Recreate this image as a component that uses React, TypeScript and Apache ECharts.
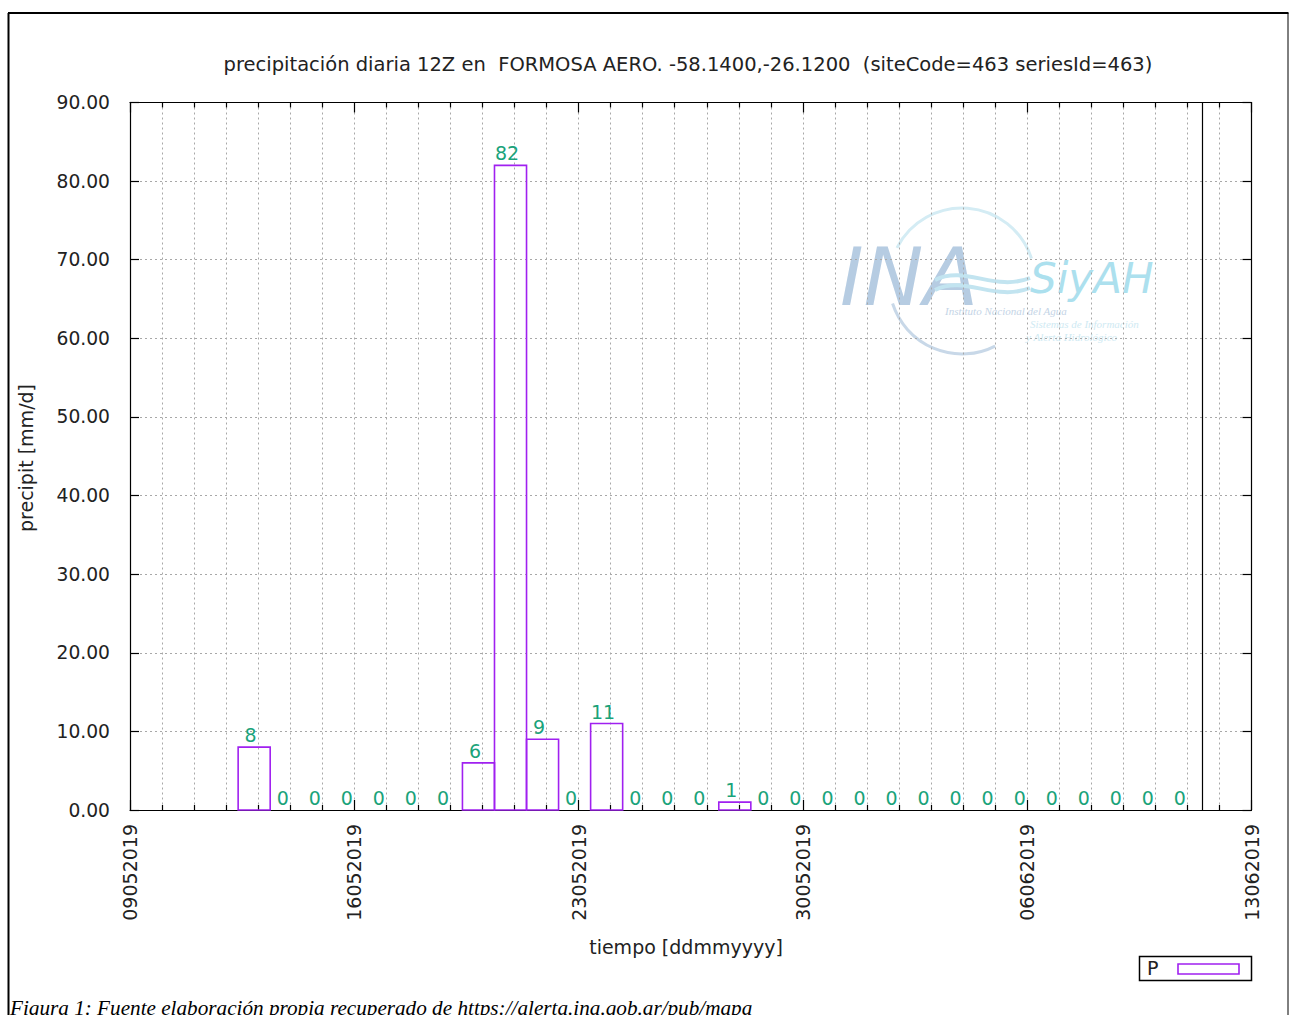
import React, { useEffect, useRef } from "react";
import * as echarts from "echarts";

const TITLE = "precipitación diaria 12Z en  FORMOSA AERO. -58.1400,-26.1200  (siteCode=463 seriesId=463)";
const X_NAME = "tiempo [ddmmyyyy]";
const Y_NAME = "precipit [mm/d]";
const CAPTION = "Figura 1: Fuente elaboración propia recuperado de https://alerta.ina.gob.ar/pub/mapa";
const LEGEND_NAME = "P";

const START_DATE = "09052019";
const END_DATE = "13062019";
// 24h accumulation periods starting at 09:00 of each date
const dates = [
  "12052019", "13052019", "14052019", "15052019", "16052019", "17052019", "18052019",
  "19052019", "20052019", "21052019", "22052019", "23052019", "24052019", "25052019",
  "26052019", "27052019", "28052019", "29052019", "30052019", "31052019", "01062019",
  "02062019", "03062019", "04062019", "05062019", "06062019", "07062019", "08062019",
  "09062019", "10062019",
];
const values = [
  8, 0, 0, 0, 0, 0, 0,
  6, 82, 9, 0, 11, 0, 0,
  0, 1, 0, 0, 0, 0, 0,
  0, 0, 0, 0, 0, 0, 0,
  0, 0,
];
const PERIOD_START_HOUR = 9;
const NOW_DATE = "11062019";
const NOW_HOUR = 11;

const Y_MIN = 0;
const Y_MAX = 90;
const Y_STEP = 10;
const X_STEP_DAYS = 7;

const DAY = 86400000;
function parseDate(s: string): number {
  const d = +s.slice(0, 2), m = +s.slice(2, 4), y = +s.slice(4);
  return Date.UTC(y, m - 1, d);
}
const t0 = parseDate(START_DATE);
const toDays = (s: string, hour = 0) => (parseDate(s) - t0) / DAY + hour / 24;
function fmtDays(v: number): string {
  const d = new Date(t0 + Math.round(v) * DAY);
  const p = (n: number) => String(n).padStart(2, "0");
  return p(d.getUTCDate()) + p(d.getUTCMonth() + 1) + d.getUTCFullYear();
}

const FONT = "DejaVu Sans";
const FS = 19;
const PURPLE = "#a020f0";
const GREEN = "#1aa37a";
const GRID_COLOR = "#a8a8a8";
const TEXT = "#222";

export default function App() {
  const ref = useRef<HTMLDivElement>(null);
  useEffect(() => {
    const chart = echarts.init(ref.current!, null, { renderer: "svg" });
    const xMax = toDays(END_DATE);
    const barData = dates.map((d, i) => {
      const s = toDays(d, PERIOD_START_HOUR);
      return [s, s + 1, values[i]];
    });
    const nowX = toDays(NOW_DATE, NOW_HOUR);

    const xCommon: any = {
      type: "value",
      min: 0,
      max: xMax,
      interval: X_STEP_DAYS,
      axisLine: { show: true, onZero: false, lineStyle: { color: "#000", width: 1.2 } },
      axisTick: { show: true, inside: true, length: 10, lineStyle: { color: "#000", width: 1.2 } },
      minorTick: { show: true, splitNumber: 7, length: 5, lineStyle: { color: "#000", width: 1.2 } },
    };
    const yCommon: any = {
      type: "value",
      min: Y_MIN,
      max: Y_MAX,
      interval: Y_STEP,
      axisLine: { show: true, onZero: false, lineStyle: { color: "#000", width: 1.2 } },
      axisTick: { show: true, inside: true, length: 9, lineStyle: { color: "#000", width: 1.2 } },
    };
    const dotted = { color: GRID_COLOR, width: 1, type: [2, 3] as any };

    chart.setOption({
      animation: false,
      backgroundColor: "#fff",
      grid: { left: 130, right: 39.5, top: 102.5, bottom: 205, containLabel: false },
      xAxis: [
        {
          ...xCommon,
          position: "bottom",
          axisLabel: {
            rotate: 90,
            margin: 14,
            fontFamily: FONT,
            fontSize: FS,
            color: TEXT,
            formatter: (v: number) => fmtDays(v),
          },
          splitLine: { show: true, showMinLine: false, showMaxLine: false, lineStyle: dotted },
          minorSplitLine: { show: true, lineStyle: dotted },
        },
        {
          ...xCommon,
          position: "top",
          axisLabel: { show: false },
          splitLine: { show: false },
        },
      ],
      yAxis: [
        {
          ...yCommon,
          position: "left",
          axisLabel: {
            margin: 20,
            fontFamily: FONT,
            fontSize: 18.7,
            color: TEXT,
            formatter: (v: number) => v.toFixed(2),
          },
          splitLine: { show: true, showMinLine: false, showMaxLine: false, lineStyle: dotted },
        },
        {
          ...yCommon,
          position: "right",
          axisLabel: { show: false },
          splitLine: { show: false },
        },
      ],
      series: [
        {
          type: "custom",
          xAxisIndex: 0,
          yAxisIndex: 0,
          data: barData,
          clip: false,
          renderItem: (params: any, api: any) => {
            const v = api.value(2);
            const a = api.coord([api.value(0), v]);
            const b = api.coord([api.value(1), 0]);
            const cx = (a[0] + b[0]) / 2;
            const children: any[] = [];
            if (v > 0) {
              children.push({
                type: "rect",
                shape: { x: a[0], y: a[1], width: b[0] - a[0], height: b[1] - a[1] },
                style: { fill: "none", stroke: PURPLE, lineWidth: 1.6 },
              });
            }
            children.push({
              type: "text",
              style: {
                text: String(v),
                x: cx - 3.5,
                y: a[1] - 12,
                align: "center",
                verticalAlign: "middle",
                fontFamily: FONT,
                fontSize: FS,
                fill: GREEN,
              },
            });
            return { type: "group", children };
          },
        },
        {
          type: "line",
          data: [],
          markLine: {
            silent: true,
            symbol: "none",
            label: { show: false },
            lineStyle: { color: "#000", width: 1.2, type: "solid" },
            data: [{ xAxis: nowX }],
          },
        },
      ],
      graphic: [
        // outer frame
        { type: "line", shape: { x1: 8, y1: 13, x2: 1288.5, y2: 13 }, style: { stroke: "#000", lineWidth: 2 } },
        { type: "line", shape: { x1: 8.5, y1: 13, x2: 8.5, y2: 1015 }, style: { stroke: "#000", lineWidth: 2 } },
        { type: "line", shape: { x1: 1288, y1: 13, x2: 1288, y2: 1015 }, style: { stroke: "#000", lineWidth: 1 } },
        // watermark
        {
          type: "group",
          silent: true,
          children: [
            { type: "arc", shape: { cx: 962, cy: 281, r: 73, startAngle: Math.PI * 1.15, endAngle: Math.PI * 1.9 }, style: { stroke: "#d4ecf4", lineWidth: 3, fill: "none" } },
            { type: "arc", shape: { cx: 962, cy: 281, r: 73, startAngle: Math.PI * 0.35, endAngle: Math.PI * 0.9 }, style: { stroke: "#c8d8e8", lineWidth: 3, fill: "none" } },
            { type: "text", style: { text: "INA", x: 840, y: 277, fontFamily: "DejaVu Sans", fontStyle: "italic", fontSize: 80, fill: "#b6cce2", verticalAlign: "middle", align: "left" } },
            { type: "text", style: { text: "SiyAH", x: 1030, y: 278, fontFamily: "DejaVu Sans", fontStyle: "italic", fontSize: 42, fill: "#ace0ee", verticalAlign: "middle", align: "left" } },
            { type: "bezierCurve", shape: { x1: 935, y1: 280, x2: 1030, y2: 278, cpx1: 965, cpy1: 265, cpx2: 995, cpy2: 292 }, style: { stroke: "#c2e4f0", lineWidth: 4, fill: "none" } },
            { type: "bezierCurve", shape: { x1: 935, y1: 290, x2: 1030, y2: 288, cpx1: 965, cpy1: 275, cpx2: 995, cpy2: 302 }, style: { stroke: "#c2e4f0", lineWidth: 4, fill: "none" } },
            { type: "text", style: { text: "Instituto Nacional del Agua", x: 945, y: 311, fontFamily: "Liberation Serif", fontStyle: "italic", fontSize: 11, fill: "#c4d4e6", verticalAlign: "middle" } },
            { type: "text", style: { text: "Sistemas de Información", x: 1030, y: 324, fontFamily: "Liberation Serif", fontStyle: "italic", fontSize: 11, fill: "#cfeaf3", verticalAlign: "middle" } },
            { type: "text", style: { text: "y Alerta Hidrológico", x: 1026, y: 337, fontFamily: "Liberation Serif", fontStyle: "italic", fontSize: 11, fill: "#cfeaf3", verticalAlign: "middle" } },
          ],
        },
        // titles
        { type: "text", style: { text: TITLE, x: 688, y: 64, align: "center", verticalAlign: "middle", fontFamily: FONT, fontSize: 19.5, fill: TEXT } },
        { type: "text", style: { text: X_NAME, x: 686, y: 947, align: "center", verticalAlign: "middle", fontFamily: FONT, fontSize: FS, fill: TEXT } },
        { type: "text", rotation: Math.PI / 2, x: 26, y: 458, style: { text: Y_NAME, x: 0, y: 0, align: "center", verticalAlign: "middle", fontFamily: FONT, fontSize: FS, fill: TEXT } },
        // legend
        { type: "rect", shape: { x: 1139.5, y: 956.5, width: 112, height: 24 }, style: { fill: "#fff", stroke: "#000", lineWidth: 1.5 } },
        { type: "text", style: { text: LEGEND_NAME, x: 1147, y: 968, verticalAlign: "middle", fontFamily: FONT, fontSize: FS, fill: TEXT } },
        { type: "rect", shape: { x: 1178, y: 964, width: 61, height: 10 }, style: { fill: "none", stroke: PURPLE, lineWidth: 1.6 } },
        // caption
        { type: "text", style: { text: CAPTION, x: 10, y: 1008, verticalAlign: "middle", fontFamily: "Liberation Serif", fontStyle: "italic", fontSize: 21.2, fill: "#000" } },
      ],
    });
    return () => chart.dispose();
  }, []);
  return <div ref={ref} style={{ position: "absolute", left: 0, top: 0, width: 1291, height: 1015 }} />;
}
